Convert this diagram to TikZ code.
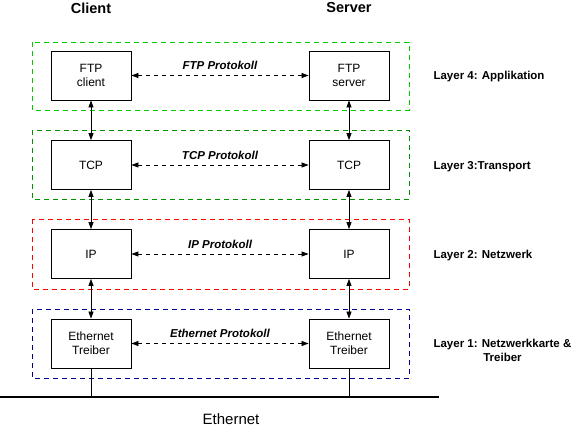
\documentclass[tikz,border=0pt]{standalone}
\usepackage{fontspec}
\setmainfont{Liberation Sans}
\usetikzlibrary{arrows.meta, positioning}

\definecolor{appgreen}{RGB}{0,205,0}
\definecolor{tpgreen}{RGB}{0,144,0}
\definecolor{netred}{RGB}{255,0,0}
\definecolor{nicblue}{RGB}{0,0,140}

\begin{document}
\begin{tikzpicture}[
    x=1pt, y=-1pt,
    box/.style={draw, line width=0.8pt, minimum width=80pt, minimum height=49pt,
                inner sep=0pt, align=center, font=\fontsize{12}{14}\selectfont},
    layer/.style={line width=0.8pt, dash pattern=on 5pt off 4pt},
    proto/.style={{Triangle[length=7pt,width=5pt]}-{Triangle[length=7pt,width=5pt]},
                  line width=0.7pt, dash pattern=on 4pt off 4pt},
    updown/.style={{Triangle[length=7pt,width=5pt]}-{Triangle[length=7pt,width=5pt]},
                   line width=0.7pt},
    protolbl/.style={font=\bfseries\itshape\fontsize{11.5}{13}\selectfont},
    layerlbl/.style={font=\bfseries\fontsize{11.5}{14}\selectfont, align=center},
    head/.style={font=\bfseries\fontsize{14.5}{16}\selectfont}
  ]
  \useasboundingbox (0,0) rectangle (577,427);

  % layer frames
  \draw[layer, appgreen] (32,42) rectangle (409,110);
  \draw[layer, tpgreen] (32,130) rectangle (409,199);
  \draw[layer, netred] (32,219) rectangle (409,289);
  \draw[layer, nicblue] (32,309) rectangle (409,378);

  % headers
  \node[head] (client) at (91,8) {Client};
  \node[head] (server) at (349,8) {Server};

  % client stack
  \node[box] (ftpc) at (91,75.5) {FTP\\client};
  \node[box] (tcpc) at (91,165) {TCP};
  \node[box] (ipc) at (91,254) {IP};
  \node[box] (ethc) at (91,343.5) {Ethernet\\Treiber};

  % server stack
  \node[box] (ftps) at (349,75.5) {FTP\\server};
  \node[box] (tcps) at (349,165) {TCP};
  \node[box] (ips) at (349,254) {IP};
  \node[box] (eths) at (349,343.5) {Ethernet\\Treiber};

  % between the layers
  \draw[updown] (ftpc) -- (tcpc);
  \draw[updown] (tcpc) -- (ipc);
  \draw[updown] (ipc) -- (ethc);
  \draw[updown] (ftps) -- (tcps);
  \draw[updown] (tcps) -- (ips);
  \draw[updown] (ips) -- (eths);

  % peer protocols
  \draw[proto] (ftpc) -- node[protolbl, above=2pt] (ftpp) {FTP Protokoll} (ftps);
  \draw[proto] (tcpc) -- node[protolbl, above=2pt] (tcpp) {TCP Protokoll} (tcps);
  \draw[proto] (ipc) -- node[protolbl, above=2pt] (ipp) {IP Protokoll} (ips);
  \draw[proto] (ethc) -- node[protolbl, above=2pt] (ethp) {Ethernet Protokoll} (eths);

  % layer names
  \node[layerlbl, anchor=west] (l4) at (430,77) {Layer 4: Applikation};
  \node[layerlbl, anchor=west] (l3) at (430,167) {Layer 3:Transport};
  \node[layerlbl, anchor=west] (l2) at (430,256) {Layer 2: Netzwerk};
  \node[layerlbl, anchor=west] (l1) at (430,350) {Layer 1: Netzwerkkarte \&\\Treiber};

  % the wire
  \coordinate (busl) at (0,397);
  \coordinate (busr) at (439,397);
  \coordinate (tapc) at (91,397);
  \coordinate (taps) at (349,397);
  \draw[line width=2pt] (busl) -- (busr);
  \draw[line width=0.8pt] (ethc) -- (tapc);
  \draw[line width=0.8pt] (eths) -- (taps);
  \node[font=\fontsize{15}{17}\selectfont] (bus) at (231,419) {Ethernet};
\end{tikzpicture}
\end{document}
